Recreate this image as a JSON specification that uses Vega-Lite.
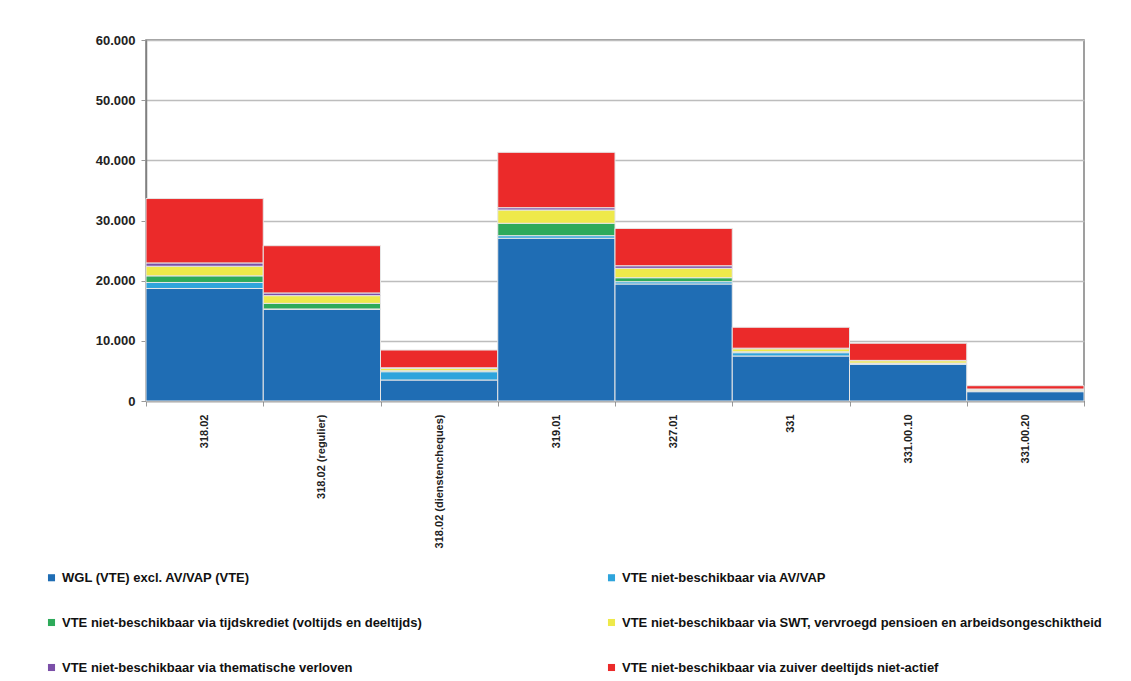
{
  "$schema": "https://vega.github.io/schema/vega-lite/v6.json",
  "autosize": "none",
  "width": 938,
  "height": 361,
  "padding": {"left": 146, "top": 40, "right": 47, "bottom": 280},
  "background": "white",
  "config": {"view": {"stroke": "#808080", "strokeWidth": 1.5}},
  "data": {"values": [
    {"cat": "318.02", "s": "WGL (VTE) excl. AV/VAP (VTE)", "o": 1, "v": 18700},
    {"cat": "318.02", "s": "VTE niet-beschikbaar via AV/VAP", "o": 2, "v": 1000},
    {"cat": "318.02", "s": "VTE niet-beschikbaar via tijdskrediet (voltijds en deeltijds)", "o": 3, "v": 1100},
    {"cat": "318.02", "s": "VTE niet-beschikbaar via SWT, vervroegd pensioen en arbeidsongeschiktheid", "o": 4, "v": 1600},
    {"cat": "318.02", "s": "VTE niet-beschikbaar via thematische verloven", "o": 5, "v": 550},
    {"cat": "318.02", "s": "VTE niet-beschikbaar via zuiver deeltijds niet-actief", "o": 6, "v": 10700},
    {"cat": "318.02 (regulier)", "s": "WGL (VTE) excl. AV/VAP (VTE)", "o": 1, "v": 15250},
    {"cat": "318.02 (regulier)", "s": "VTE niet-beschikbaar via AV/VAP", "o": 2, "v": 50},
    {"cat": "318.02 (regulier)", "s": "VTE niet-beschikbaar via tijdskrediet (voltijds en deeltijds)", "o": 3, "v": 930},
    {"cat": "318.02 (regulier)", "s": "VTE niet-beschikbaar via SWT, vervroegd pensioen en arbeidsongeschiktheid", "o": 4, "v": 1280},
    {"cat": "318.02 (regulier)", "s": "VTE niet-beschikbaar via thematische verloven", "o": 5, "v": 450},
    {"cat": "318.02 (regulier)", "s": "VTE niet-beschikbaar via zuiver deeltijds niet-actief", "o": 6, "v": 7850},
    {"cat": "318.02 (dienstencheques)", "s": "WGL (VTE) excl. AV/VAP (VTE)", "o": 1, "v": 3490},
    {"cat": "318.02 (dienstencheques)", "s": "VTE niet-beschikbaar via AV/VAP", "o": 2, "v": 1380},
    {"cat": "318.02 (dienstencheques)", "s": "VTE niet-beschikbaar via tijdskrediet (voltijds en deeltijds)", "o": 3, "v": 150},
    {"cat": "318.02 (dienstencheques)", "s": "VTE niet-beschikbaar via SWT, vervroegd pensioen en arbeidsongeschiktheid", "o": 4, "v": 400},
    {"cat": "318.02 (dienstencheques)", "s": "VTE niet-beschikbaar via thematische verloven", "o": 5, "v": 100},
    {"cat": "318.02 (dienstencheques)", "s": "VTE niet-beschikbaar via zuiver deeltijds niet-actief", "o": 6, "v": 2950},
    {"cat": "319.01", "s": "WGL (VTE) excl. AV/VAP (VTE)", "o": 1, "v": 27050},
    {"cat": "319.01", "s": "VTE niet-beschikbaar via AV/VAP", "o": 2, "v": 430},
    {"cat": "319.01", "s": "VTE niet-beschikbaar via tijdskrediet (voltijds en deeltijds)", "o": 3, "v": 2060},
    {"cat": "319.01", "s": "VTE niet-beschikbaar via SWT, vervroegd pensioen en arbeidsongeschiktheid", "o": 4, "v": 2210},
    {"cat": "319.01", "s": "VTE niet-beschikbaar via thematische verloven", "o": 5, "v": 380},
    {"cat": "319.01", "s": "VTE niet-beschikbaar via zuiver deeltijds niet-actief", "o": 6, "v": 9200},
    {"cat": "327.01", "s": "WGL (VTE) excl. AV/VAP (VTE)", "o": 1, "v": 19450},
    {"cat": "327.01", "s": "VTE niet-beschikbaar via AV/VAP", "o": 2, "v": 380},
    {"cat": "327.01", "s": "VTE niet-beschikbaar via tijdskrediet (voltijds en deeltijds)", "o": 3, "v": 660},
    {"cat": "327.01", "s": "VTE niet-beschikbaar via SWT, vervroegd pensioen en arbeidsongeschiktheid", "o": 4, "v": 1560},
    {"cat": "327.01", "s": "VTE niet-beschikbaar via thematische verloven", "o": 5, "v": 430},
    {"cat": "327.01", "s": "VTE niet-beschikbaar via zuiver deeltijds niet-actief", "o": 6, "v": 6200},
    {"cat": "331", "s": "WGL (VTE) excl. AV/VAP (VTE)", "o": 1, "v": 7480},
    {"cat": "331", "s": "VTE niet-beschikbaar via AV/VAP", "o": 2, "v": 550},
    {"cat": "331", "s": "VTE niet-beschikbaar via tijdskrediet (voltijds en deeltijds)", "o": 3, "v": 150},
    {"cat": "331", "s": "VTE niet-beschikbaar via SWT, vervroegd pensioen en arbeidsongeschiktheid", "o": 4, "v": 500},
    {"cat": "331", "s": "VTE niet-beschikbaar via thematische verloven", "o": 5, "v": 100},
    {"cat": "331", "s": "VTE niet-beschikbaar via zuiver deeltijds niet-actief", "o": 6, "v": 3470},
    {"cat": "331.00.10", "s": "WGL (VTE) excl. AV/VAP (VTE)", "o": 1, "v": 6100},
    {"cat": "331.00.10", "s": "VTE niet-beschikbaar via AV/VAP", "o": 2, "v": 150},
    {"cat": "331.00.10", "s": "VTE niet-beschikbaar via tijdskrediet (voltijds en deeltijds)", "o": 3, "v": 50},
    {"cat": "331.00.10", "s": "VTE niet-beschikbaar via SWT, vervroegd pensioen en arbeidsongeschiktheid", "o": 4, "v": 400},
    {"cat": "331.00.10", "s": "VTE niet-beschikbaar via thematische verloven", "o": 5, "v": 50},
    {"cat": "331.00.10", "s": "VTE niet-beschikbaar via zuiver deeltijds niet-actief", "o": 6, "v": 2850},
    {"cat": "331.00.20", "s": "WGL (VTE) excl. AV/VAP (VTE)", "o": 1, "v": 1550},
    {"cat": "331.00.20", "s": "VTE niet-beschikbaar via AV/VAP", "o": 2, "v": 150},
    {"cat": "331.00.20", "s": "VTE niet-beschikbaar via tijdskrediet (voltijds en deeltijds)", "o": 3, "v": 20},
    {"cat": "331.00.20", "s": "VTE niet-beschikbaar via SWT, vervroegd pensioen en arbeidsongeschiktheid", "o": 4, "v": 250},
    {"cat": "331.00.20", "s": "VTE niet-beschikbaar via thematische verloven", "o": 5, "v": 20},
    {"cat": "331.00.20", "s": "VTE niet-beschikbaar via zuiver deeltijds niet-actief", "o": 6, "v": 550}
  ]},
  "mark": {"type": "bar", "stroke": "#e6e6e6", "strokeWidth": 1},
  "encoding": {
    "x": {
      "field": "cat", "type": "nominal", "sort": null,
      "scale": {"paddingInner": 0, "paddingOuter": 0},
      "axis": {
        "title": null, "labelAngle": -90, "labelFont": "Liberation Sans", "labelFontSize": 11,
        "labelFontWeight": "bold", "labelColor": "#222", "labelPadding": 8, "labelLimit": 200,
        "tickBand": "extent", "tickColor": "#999", "tickSize": 5, "domainColor": "#808080", "domainWidth": 1.5
      }
    },
    "y": {
      "field": "v", "type": "quantitative", "aggregate": "sum",
      "scale": {"domain": [0, 60000], "nice": false},
      "axis": {
        "title": null, "values": [0, 10000, 20000, 30000, 40000, 50000, 60000],
        "labelExpr": "replace(format(datum.value, ',d'), ',', '.')",
        "labelFont": "Liberation Sans", "labelFontSize": 13, "labelFontWeight": "bold", "labelColor": "#222",
        "labelPadding": 6, "tickColor": "#999", "tickSize": 5,
        "gridColor": "#bdbdbd", "gridWidth": 1.5, "domainColor": "#808080", "domainWidth": 1.5
      }
    },
    "color": {
      "field": "s", "type": "nominal",
      "scale": {
        "domain": [
          "WGL (VTE) excl. AV/VAP (VTE)",
          "VTE niet-beschikbaar via tijdskrediet (voltijds en deeltijds)",
          "VTE niet-beschikbaar via thematische verloven",
          "VTE niet-beschikbaar via AV/VAP",
          "VTE niet-beschikbaar via SWT, vervroegd pensioen en arbeidsongeschiktheid",
          "VTE niet-beschikbaar via zuiver deeltijds niet-actief"
        ],
        "range": ["#1f6db4", "#2eaa5a", "#7b4fa8", "#2ea4dc", "#eee94a", "#eb2a2a"]
      },
      "legend": {
        "title": null, "orient": "none", "legendX": -101, "legendY": 531,
        "columns": 2, "gridAlign": "all", "columnPadding": 63, "rowPadding": 31,
        "symbolType": "square", "symbolSize": 50, "symbolStrokeWidth": 0,
        "labelFont": "Liberation Sans", "labelFontSize": 13, "labelFontWeight": "bold", "labelColor": "#111",
        "labelLimit": 600
      }
    },
    "order": {"field": "o", "type": "quantitative"}
  }
}
